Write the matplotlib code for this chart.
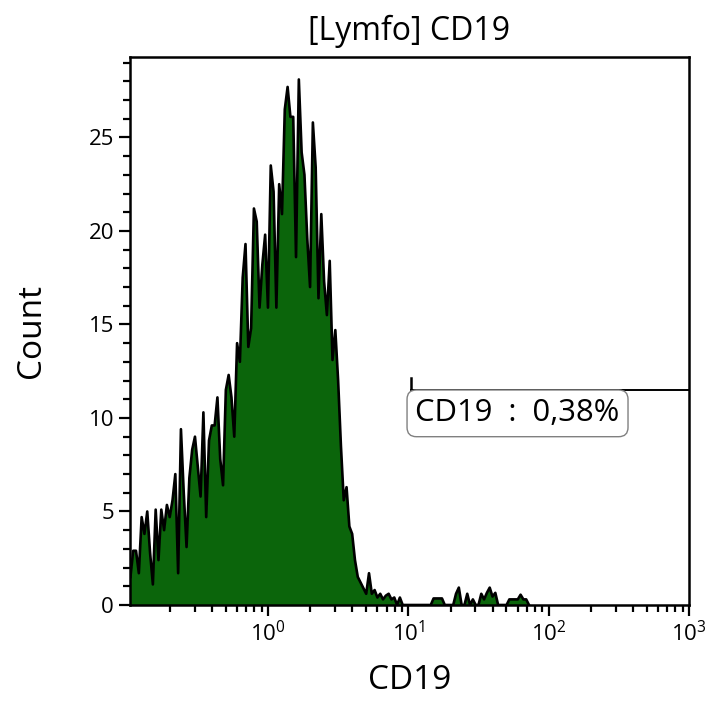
import numpy as np
import matplotlib
matplotlib.use("Agg")
import matplotlib.pyplot as plt
from matplotlib.ticker import LogLocator, MultipleLocator

plt.rcParams['font.family'] = ['Open Sans', 'DejaVu Sans']
plt.rcParams['mathtext.fontset'] = 'custom'
plt.rcParams['mathtext.rm'] = 'Open Sans'

# channel positions: log10(CD19) from -0.98 in steps of 0.02
log_start = -0.98
log_step = 0.02

# counts per channel
counts = [
    1.5, 2.9, 2.9, 1.7, 4.7, 3.8, 5.0, 2.8, 1.1, 5.1,
    2.4, 5.1, 4.0, 5.35, 4.7, 5.6, 7.0, 1.7, 9.4, 6.0,
    3.1, 6.8, 8.3, 9.0, 7.4, 5.8, 10.3, 4.7, 8.8, 9.6,
    9.6, 11.1, 7.8, 6.4, 11.5, 12.3, 11.1, 9.0, 14.0, 13.0,
    17.5, 19.3, 13.8, 14.8, 21.2, 20.5, 15.9, 18.2, 19.8, 15.9,
    23.5, 22.1, 15.9, 22.5, 20.9, 26.5, 27.7, 26.1, 26.1, 18.6,
    28.1, 24.2, 23.0, 19.6, 17.0, 25.8, 23.4, 16.4, 20.9, 17.3,
    15.5, 18.4, 13.1, 14.7, 12.0, 8.5, 5.6, 6.3, 4.2, 3.8,
    2.4, 1.5, 1.2, 0.9, 0.6, 1.7, 0.6, 0.8, 0.4, 0.6,
    0.3, 0.5, 0.6, 0.3, 0.4, 0.0, 0.4, 0.0, 0.0, 0.0,
    0.0, 0.0, 0.0, 0.0, 0.0, 0.0, 0.0, 0.0, 0.35, 0.35,
    0.35, 0.35, 0.0, 0.0, 0.0, 0.0, 0.6, 0.93, 0.0, 0.0,
    0.6, 0.0, 0.3, 0.0, 0.0, 0.6, 0.3, 0.65, 0.93, 0.45,
    0.65, 0.0, 0.0, 0.0, 0.0, 0.3, 0.3, 0.3, 0.3, 0.55,
    0.3, 0.3, 0.0,
]

gate_start = 10.5
gate_level = 11.5
gate_label = "CD19 : 0,38%"

x = 10 ** (log_start + log_step * np.arange(len(counts)))
y = np.array(counts)

fig = plt.figure(figsize=(7.08, 7.01), dpi=100)
ax = fig.add_axes([130 / 708, 96 / 701, 559 / 708, 548 / 701])

ax.fill_between(x, y, 0, color='#0b650b', linewidth=0)
ax.plot(x, y, color='black', linewidth=1.9)

ax.set_xscale('log')
ax.set_xlim(0.104, 1000)
ax.set_ylim(0, 29.3)

ax.xaxis.set_major_locator(LogLocator(base=10, numticks=10))
ax.xaxis.set_minor_locator(LogLocator(base=10, subs=np.arange(2, 10), numticks=20))
ax.yaxis.set_major_locator(MultipleLocator(5))
ax.yaxis.set_minor_locator(MultipleLocator(1))

ax.tick_params(which='both', direction='out', width=1.6, labelsize=16)
ax.tick_params(which='major', length=8)
ax.tick_params(which='minor', length=5)
for s in ax.spines.values():
    s.set_linewidth(1.8)

# gate marker
ax.plot([gate_start, 1000], [gate_level, gate_level], color='black', linewidth=1.4)
ax.plot([gate_start, gate_start], [gate_level - 0.55, gate_level + 0.65],
        color='black', linewidth=1.8)
ax.text(gate_start * 1.07, gate_level - 0.45, gate_label.replace(" ", "  "),
        fontsize=22.3, ha='left', va='top',
        bbox=dict(boxstyle='round,pad=0.27,rounding_size=0.3', facecolor='white',
                  edgecolor='#808080', linewidth=1.0))

ax.set_title("[Lymfo] CD19", fontsize=23, pad=12)
ax.set_xlabel("CD19", fontsize=24, labelpad=13)
ax.set_ylabel("Count", fontsize=24, labelpad=29)

fig.savefig("out.png", dpi=100)
